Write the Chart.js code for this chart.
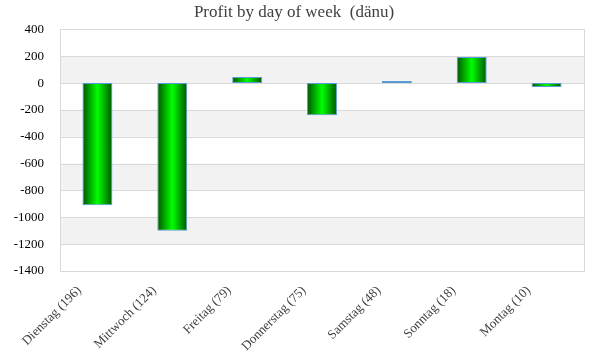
<!DOCTYPE html>
<html>
<head>
<meta charset="utf-8">
<script src="https://cdn.jsdelivr.net/npm/chart.js@4/dist/chart.umd.min.js"></script>
<style>
  html, body { margin: 0; padding: 0; background: #fff; }
  #wrap { width: 600px; height: 360px; }
</style>
</head>
<body>
<div id="wrap"><canvas id="profitChart" width="600" height="360"></canvas></div>
<script>
const days = ['Dienstag (196)', 'Mittwoch (124)', 'Freitag (79)', 'Donnerstag (75)', 'Samstag (48)', 'Sonntag (18)', 'Montag (10)'];
const profit = [-910, -1100, 45, -240, 15, 195, -30];
const yTicks = [400, 200, 0, -200, -400, -600, -800, -1000, -1200, -1400];

const serif = "Georgia, 'Liberation Serif', 'DejaVu Serif', serif";
const barPct = 0.4;

const bandPlugin = {
    id: 'bands',
    beforeDatasetsDraw(chart) {
        const { ctx, chartArea, scales } = chart;
        const y = scales.y;
        ctx.save();
        ctx.fillStyle = '#f2f2f2';
        for (let i = 0; i < yTicks.length - 1; i++) {
            if (i % 2 === 1) {
                const top = y.getPixelForValue(yTicks[i]);
                const bot = y.getPixelForValue(yTicks[i + 1]);
                ctx.fillRect(chartArea.left, top, chartArea.right - chartArea.left, bot - top);
            }
        }
        // grid lines on top of bands
        ctx.strokeStyle = '#d9d9d9';
        ctx.lineWidth = 1;
        yTicks.forEach(v => {
            const py = Math.round(y.getPixelForValue(v)) + 0.5;
            ctx.beginPath();
            ctx.moveTo(chartArea.left, py);
            ctx.lineTo(chartArea.right, py);
            ctx.stroke();
        });
        ctx.strokeRect(Math.round(chartArea.left) + 0.5, Math.round(chartArea.top) + 0.5,
            Math.round(chartArea.right - chartArea.left), Math.round(chartArea.bottom - chartArea.top));
        ctx.restore();
    }
};

const barFill = (context) => {
    const chart = context.chart;
    if (!chart.chartArea) return '#00c000';
    const x = chart.scales.x;
    const cx = x.getPixelForValue(context.dataIndex);
    const half = (x.width / days.length) * barPct / 2;
    const g = chart.ctx.createLinearGradient(cx - half, 0, cx + half, 0);
    g.addColorStop(0, '#005400');
    g.addColorStop(0.5, '#00ff00');
    g.addColorStop(1, '#005400');
    return g;
};

new Chart(document.getElementById('profitChart'), {
    type: 'bar',
    data: {
        labels: days,
        datasets: [{
            label: 'Profit',
            data: profit,
            backgroundColor: barFill,
            borderColor: '#5b9bd5',
            borderWidth: 1,
            borderSkipped: false,
            barPercentage: barPct,
            categoryPercentage: 1
        }]
    },
    options: {
        responsive: false,
        animation: false,
        layout: { padding: { top: 2, right: 16, left: 4, bottom: 2 } },
        plugins: {
            legend: { display: false },
            tooltip: { enabled: false },
            title: {
                display: true,
                text: 'Profit by day of week  (dänu)',
                color: '#404040',
                font: { family: serif, size: 17, weight: 'normal' },
                padding: { top: 0, bottom: 7 }
            }
        },
        scales: {
            x: {
                grid: { display: false },
                border: { display: false },
                ticks: {
                    color: '#404040',
                    font: { family: serif, size: 13 },
                    minRotation: 45,
                    maxRotation: 45,
                    padding: 4,
                    labelOffset: -18
                }
            },
            y: {
                min: -1400,
                max: 400,
                grid: { display: false },
                border: { display: false },
                afterBuildTicks: axis => { axis.ticks = yTicks.map(v => ({ value: v })); },
                afterFit: axis => { axis.width = 56; },
                ticks: {
                    color: '#000',
                    font: { family: serif, size: 13 },
                    padding: 8,
                    callback: v => String(v)
                }
            }
        }
    },
    plugins: [bandPlugin]
});
</script>
</body>
</html>
